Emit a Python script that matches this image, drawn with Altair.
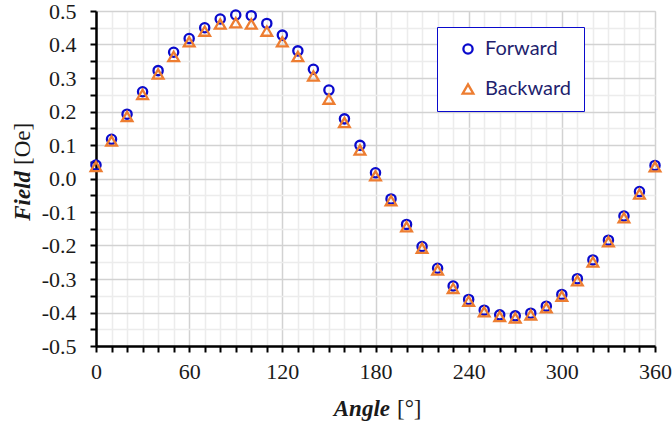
import altair as alt
import pandas as pd

angles = [0, 10, 20, 30, 40, 50, 60, 70, 80, 90, 100, 110, 120, 130, 140, 150, 160, 170, 180,
          190, 200, 210, 220, 230, 240, 250, 260, 270, 280, 290, 300, 310, 320, 330, 340, 350, 360]
forward = [0.040, 0.117, 0.192, 0.259, 0.322, 0.377, 0.418, 0.450, 0.476, 0.488, 0.486, 0.463,
           0.428, 0.381, 0.326, 0.264, 0.178, 0.099, 0.017, -0.061, -0.137, -0.203, -0.268,
           -0.321, -0.361, -0.393, -0.407, -0.410, -0.402, -0.381, -0.346, -0.299, -0.243,
           -0.184, -0.112, -0.039, 0.039]
backward = [0.036, 0.112, 0.185, 0.251, 0.312, 0.364, 0.408, 0.440, 0.461, 0.465, 0.461, 0.440,
            0.408, 0.364, 0.306, 0.237, 0.167, 0.085, 0.008, -0.066, -0.144, -0.208, -0.273,
            -0.328, -0.366, -0.398, -0.412, -0.416, -0.407, -0.386, -0.351, -0.305, -0.249,
            -0.189, -0.117, -0.046, 0.035]
series = ["Forward", "Backward"]
colors = ["#0A0ACC", "#ED7D31"]
shapes = ["circle", "triangle-up"]
marker_sizes = [85, 115]

df = pd.DataFrame({
    "Angle": angles + angles,
    "Field": forward + backward,
    "Series": [series[0]] * len(angles) + [series[1]] * len(angles),
})

y_ticks = [round(-0.5 + 0.05 * k, 2) for k in range(21)]
x_ticks = list(range(0, 361, 10))

serif = "Liberation Serif"
major = "#d2d2d2"
minor = "#ececec"

legend = alt.Legend(
    title=None, orient="none", legendX=341, legendY=16,
    strokeColor="#0A0ACC", padding=12, fillColor="white",
    symbolSize=55, symbolStrokeWidth=2.3, symbolOffset=9,
    labelFont="Lato", labelFontSize=20, labelColor="#1f1f6e", labelOffset=7,
    rowPadding=20, labelExpr="datum.label + '        '",
)

points = alt.Chart(df).mark_point(filled=False, strokeWidth=2.3, opacity=1).encode(
    x=alt.X("Angle:Q", scale=alt.Scale(domain=[0, 360], nice=False, zero=False),
            axis=alt.Axis(
                values=x_ticks, title=None,
                labelExpr="datum.value % 60 == 0 ? datum.label : ''",
                labelFont=serif, labelFontSize=22, labelColor="#1a1a1a",
                labelPadding=9, labelFlush=False, labelOverlap=False,
                tickSize=6, tickColor="black", tickWidth=2,
                domainColor="black", domainWidth=2.5,
                grid=True, gridWidth=1.5,
                gridColor={"condition": {"test": "datum.value % 60 == 0", "value": major}, "value": minor},
            )),
    y=alt.Y("Field:Q", scale=alt.Scale(domain=[-0.5, 0.5], nice=False, zero=False),
            axis=alt.Axis(
                values=y_ticks, title=None,
                labelExpr="abs(round(datum.value*20)) % 2 == 0 ? replace(format(datum.value, '.1f'), '\u2212', '-') : ''",
                labelFont=serif, labelFontSize=22, labelColor="#1a1a1a",
                labelPadding=14, labelFlush=False, labelOverlap=False,
                tickSize=6, tickColor="black", tickWidth=2,
                domainColor="black", domainWidth=2.5,
                grid=True, gridWidth=1.5,
                gridColor={"condition": {"test": "abs(round(datum.value*20)) % 2 == 0", "value": major}, "value": minor},
            )),
    color=alt.Color("Series:N", scale=alt.Scale(domain=series, range=colors), legend=legend),
    shape=alt.Shape("Series:N", scale=alt.Scale(domain=series, range=shapes), legend=legend),
    size=alt.Size("Series:N", scale=alt.Scale(domain=series, range=marker_sizes), legend=None),
)

title_df = pd.DataFrame({"a": [0]})

x_title_a = alt.Chart(title_df).mark_text(
    text="Angle", font=serif, fontSize=23, fontStyle="italic", fontWeight="bold",
    align="right", baseline="alphabetic", color="#1a1a1a",
).encode(x=alt.value(294), y=alt.value(405))
x_title_b = alt.Chart(title_df).mark_text(
    text="[°]", font=serif, fontSize=23, align="left", baseline="alphabetic", color="#1a1a1a",
).encode(x=alt.value(301), y=alt.value(405))

y_title_a = alt.Chart(title_df).mark_text(
    text="Field", font=serif, fontSize=23, fontStyle="italic", fontWeight="bold",
    align="right", baseline="middle", angle=270, color="#1a1a1a",
).encode(x=alt.value(-73), y=alt.value(160))
y_title_b = alt.Chart(title_df).mark_text(
    text="[Oe]", font=serif, fontSize=23, align="left", baseline="middle", angle=270, color="#1a1a1a",
).encode(x=alt.value(-73), y=alt.value(154))

chart = alt.layer(points, x_title_a, x_title_b, y_title_a, y_title_b).properties(
    width=559, height=335, autosize="none",
    padding={"left": 96, "top": 11, "right": 17, "bottom": 79},
).configure_view(stroke="black", strokeWidth=2).configure_legend(
    strokeWidth=1.5
).configure(background="white")

chart.save("out.html", embed_options={"renderer": "svg", "actions": False})
